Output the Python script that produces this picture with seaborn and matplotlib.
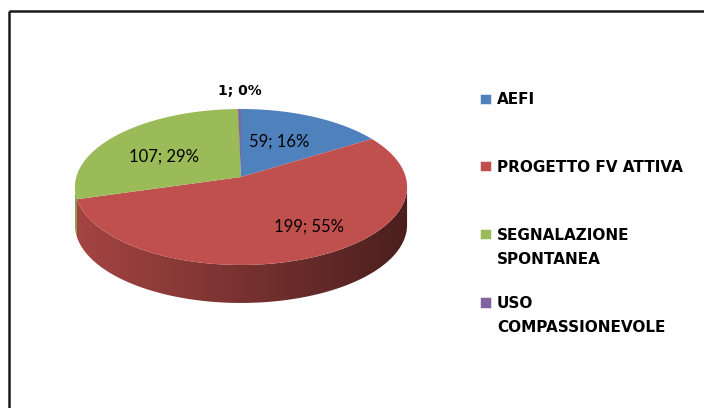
import numpy as np
import matplotlib
matplotlib.use("Agg")
import matplotlib.pyplot as plt
from matplotlib.patches import Polygon, Rectangle
import seaborn as sns

# Data
categories = ["AEFI", "PROGETTO FV ATTIVA", "SEGNALAZIONE SPONTANEA", "USO COMPASSIONEVOLE"]
legend_lines = [["AEFI"], ["PROGETTO FV ATTIVA"], ["SEGNALAZIONE", "SPONTANEA"], ["USO", "COMPASSIONEVOLE"]]
counts = [59, 199, 107, 1]

sns.set_theme(style="white")
plt.rcParams["font.family"] = ["DejaVu Sans"]

palette = ["#4F81BD", "#C0504D", "#9BBB59", "#8064A2"]


def rounded_percents(vals):
    """Whole percentages that add to 100 (largest remainder)."""
    vals = np.asarray(vals, dtype=float)
    raw = vals / vals.sum() * 100
    base = np.floor(raw).astype(int)
    left = 100 - base.sum()
    order = np.argsort(-(raw - base))
    for i in order[:left]:
        base[i] += 1
    return base


# Pie geometry in pixel space, with a mild perspective (front looks nearer)
CX, CY = 241.0, 177.0   # pie centre on the top face
R, S = 164.7, 76.7      # horizontal radius, vertical squash
K = 0.128               # perspective strength
DEPTH = 38.0            # thickness of the disc


def arc(t0, t1, dy=0.0, n=240):
    t = np.radians(np.linspace(t0, t1, n))
    w = 1.0 + K * np.sin(t)
    return np.column_stack([CX + R * np.cos(t) / w, CY - S * np.sin(t) / w + dy])


fig = plt.figure(figsize=(7.04, 4.08), dpi=100)
ax = fig.add_axes([0, 0, 1, 1])

total = float(sum(counts))
cum = np.concatenate([[0.0], np.cumsum(counts)])
starts = 90.0 - 360.0 * cum[:-1] / total
ends = 90.0 - 360.0 * cum[1:] / total

# Visible wall: between the two silhouette points of the perspective ellipse
edge = np.degrees(np.arcsin(K))
vis_lo, vis_hi = -180.0 + edge, -edge

# Side walls, shaded darker toward the right
x_left, x_right = CX - R * 1.01, CX + R * 1.01
xs = np.linspace(x_left, x_right, 400)
shade = 0.86 - 0.47 * (xs - xs[0]) / (xs[-1] - xs[0])
for a0, a1, col in zip(starts, ends, palette):
    lo_slice, hi_slice = min(a0, a1), max(a0, a1)
    for k in (-1, 0, 1):
        lo = max(lo_slice, vis_lo + 360 * k)
        hi = min(hi_slice, vis_hi + 360 * k)
        if hi - lo <= 0.01:
            continue
        top = arc(lo, hi)
        bot = arc(hi, lo, dy=DEPTH)
        poly = Polygon(np.vstack([top, bot]), closed=True, facecolor="none",
                       edgecolor="none", transform=ax.transData)
        ax.add_patch(poly)
        rgb = np.array(matplotlib.colors.to_rgb(col))
        img = np.clip(shade[:, None] * rgb[None, :], 0, 1)[None, :, :]
        im = ax.imshow(img, extent=(x_left, x_right, CY + 2 * S + DEPTH, CY - 2),
                       aspect="auto", interpolation="bilinear", zorder=1)
        im.set_clip_path(poly)

# Top faces
for a0, a1, col in zip(starts, ends, palette):
    pts = np.vstack([[CX, CY], arc(a1, a0)])
    ax.add_patch(Polygon(pts, closed=True, facecolor=col, edgecolor="none",
                         linewidth=0, zorder=2))

# Data labels "value; pct%"
pcts = rounded_percents(counts)
label_xy = [(279, 147), (309, 232), (164, 162), (240, 95)]
for i, (v, p) in enumerate(zip(counts, pcts)):
    txt = f"{v}; {p}%"
    x, y = label_xy[i]
    if v / total < 0.02:
        ax.text(x, y, txt, ha="center", va="baseline", fontsize=10,
                fontweight="bold", color="black", zorder=5)
    else:
        ax.text(x, y, txt, ha="center", va="baseline", fontsize=12,
                family=["Lato", "DejaVu Sans"], color="black", zorder=5)

# Legend
entry_base = [104.5, 171.5, 239.5, 308.0]
for lines, col, yb in zip(legend_lines, palette, entry_base):
    ax.add_patch(Rectangle((480, yb - 11), 11, 10.5, facecolor=col,
                           edgecolor="white", linewidth=0.4, zorder=3))
    for j, line in enumerate(lines):
        ax.text(497, yb + 24.5 * j, line, ha="left", va="baseline",
                fontsize=11, fontweight="bold", color="black")

# Chart area frame (left and top edges)
ax.plot([9, 9], [11, 420], color="#1a1a1a", lw=1.8, solid_capstyle="butt", zorder=6)
ax.plot([9, 720], [11, 11], color="#1a1a1a", lw=1.8, solid_capstyle="butt", zorder=6)

ax.set_xlim(0, 704)
ax.set_ylim(408, 0)
ax.axis("off")
fig.savefig("out.png", dpi=100, facecolor="white")
